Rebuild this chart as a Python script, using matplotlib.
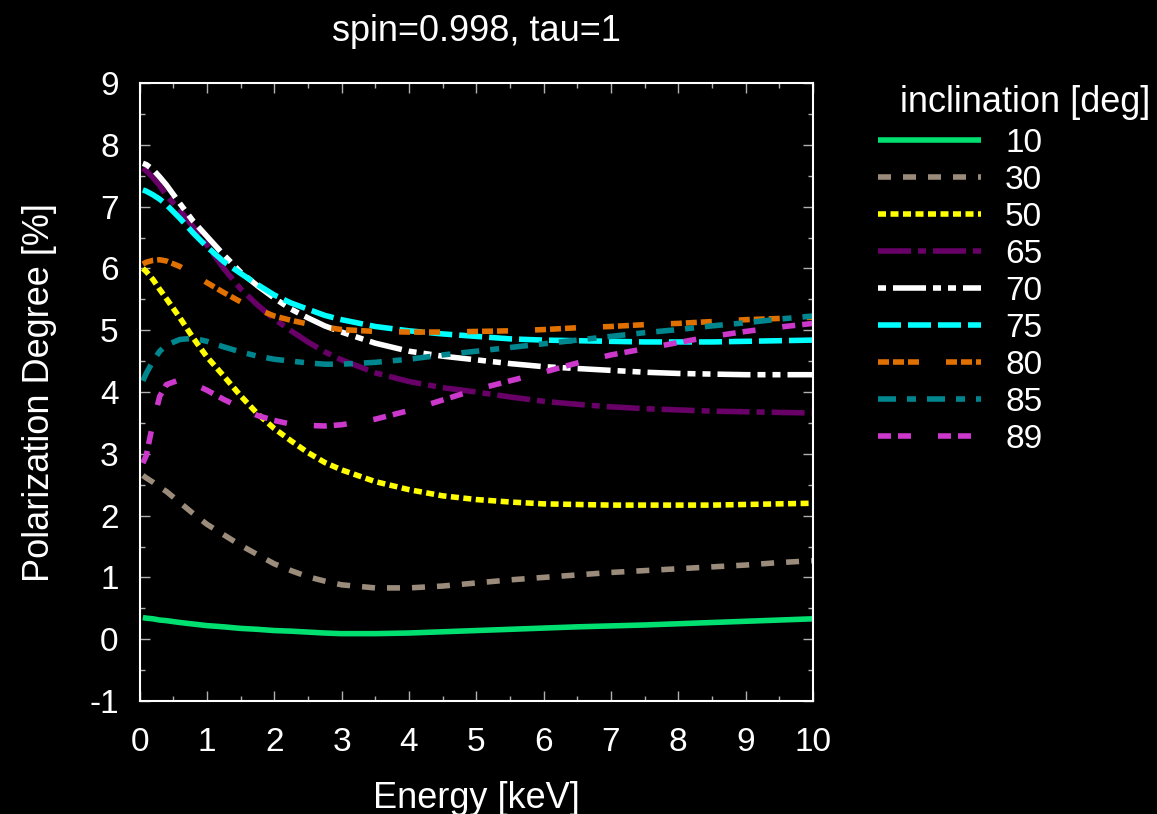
import matplotlib
matplotlib.use('Agg')
import matplotlib.pyplot as plt
from matplotlib.ticker import MultipleLocator

plt.rcParams['font.family'] = ['Liberation Sans', 'DejaVu Sans']
plt.rcParams['axes.unicode_minus'] = False
plt.rcParams['lines.scale_dashes'] = False

# energy grid [keV] and polarization degree [%]
energy = [0.05, 0.1, 0.2, 0.3, 0.4, 0.6, 0.8, 1.0, 1.25, 1.5, 1.75, 2.0, 2.25, 2.5, 2.75,
          3.0, 3.5, 4.0, 4.5, 5.0, 5.5, 6.0, 6.5, 7.0, 7.5, 8.0, 8.5, 9.0, 9.5, 10.0]

pol_10 = [0.35, 0.34, 0.33, 0.31, 0.30, 0.27, 0.245, 0.22, 0.20, 0.175, 0.16, 0.14, 0.13, 0.115, 0.10,
          0.09, 0.09, 0.10, 0.12, 0.14, 0.16, 0.18, 0.20, 0.215, 0.23, 0.25, 0.27, 0.29, 0.31, 0.33]
pol_30 = [2.65, 2.61, 2.54, 2.46, 2.39, 2.21, 2.03, 1.86, 1.69, 1.52, 1.37, 1.22, 1.11, 1.01, 0.94,
          0.88, 0.83, 0.83, 0.86, 0.91, 0.96, 1.00, 1.04, 1.08, 1.11, 1.14, 1.17, 1.20, 1.24, 1.27]
pol_50 = [6.00, 5.95, 5.82, 5.66, 5.51, 5.20, 4.87, 4.57, 4.26, 3.94, 3.65, 3.41, 3.21, 3.02, 2.86,
          2.74, 2.55, 2.42, 2.32, 2.26, 2.22, 2.19, 2.18, 2.17, 2.17, 2.17, 2.17, 2.18, 2.19, 2.20]
pol_65 = [7.62, 7.58, 7.47, 7.34, 7.18, 6.94, 6.67, 6.38, 6.00, 5.67, 5.41, 5.18, 4.99, 4.81, 4.65,
          4.52, 4.31, 4.17, 4.07, 4.00, 3.92, 3.85, 3.80, 3.76, 3.73, 3.71, 3.69, 3.68, 3.67, 3.66]
pol_70 = [7.70, 7.68, 7.60, 7.48, 7.35, 7.05, 6.76, 6.52, 6.22, 5.94, 5.72, 5.52, 5.34, 5.20, 5.07,
          4.97, 4.79, 4.66, 4.58, 4.52, 4.46, 4.41, 4.38, 4.35, 4.32, 4.30, 4.29, 4.28, 4.28, 4.28]
pol_75 = [7.27, 7.25, 7.19, 7.12, 7.03, 6.81, 6.57, 6.35, 6.11, 5.92, 5.74, 5.57, 5.44, 5.34, 5.24,
          5.17, 5.06, 4.99, 4.94, 4.90, 4.86, 4.84, 4.83, 4.82, 4.81, 4.81, 4.81, 4.82, 4.83, 4.84]
pol_80 = [6.07, 6.10, 6.13, 6.14, 6.12, 6.03, 5.90, 5.77, 5.61, 5.46, 5.34, 5.23, 5.16, 5.10, 5.05,
          5.01, 4.98, 4.97, 4.97, 4.98, 4.99, 5.01, 5.04, 5.06, 5.09, 5.11, 5.14, 5.17, 5.19, 5.21]
pol_85 = [4.18, 4.30, 4.50, 4.66, 4.76, 4.85, 4.87, 4.82, 4.73, 4.65, 4.58, 4.53, 4.50, 4.47, 4.45,
          4.45, 4.48, 4.53, 4.60, 4.66, 4.72, 4.78, 4.84, 4.90, 4.96, 5.01, 5.07, 5.12, 5.18, 5.23]
pol_89 = [2.85, 2.97, 3.50, 3.93, 4.12, 4.20, 4.13, 4.03, 3.88, 3.75, 3.62, 3.54, 3.48, 3.46, 3.45,
          3.47, 3.56, 3.70, 3.87, 4.04, 4.18, 4.32, 4.47, 4.60, 4.70, 4.80, 4.90, 4.98, 5.05, 5.11]

inclinations = ['10', '30', '50', '65', '70', '75', '80', '85', '89']
series = [pol_10, pol_30, pol_50, pol_65, pol_70, pol_75, pol_80, pol_85, pol_89]
colors = ['#00e070', '#9b8b7b', '#ffff00', '#680068', '#ffffff',
          '#00ffff', '#e07000', '#00868e', '#cc38cc']

PX = 0.72  # points per pixel at dpi 100
dash_px = [None, [13, 12], [8, 4.5], [33, 7, 8, 7], [8, 7, 33, 7, 8, 7],
           [23, 7], [11, 4, 11, 4, 11, 27], [18, 11, 9, 11], [13, 7, 13, 27]]
styles = ['-' if d is None else (0, tuple(v * PX for v in d)) for d in dash_px]

fig = plt.figure(figsize=(11.57, 8.14), dpi=100, facecolor='black')
ax = fig.add_axes([139.5 / 1157, 113 / 814, 673.5 / 1157, 618 / 814])
ax.set_facecolor('black')

for lab, vals, c, ls in zip(inclinations, series, colors, styles):
    ax.plot(energy, vals, color=c, lw=4.0, ls=ls, label=lab,
            solid_capstyle='butt', dash_capstyle='butt')

ax.set_xlim(0, 10)
ax.set_ylim(-1, 9)
ax.set_xticks(range(0, 11))
ax.set_yticks(range(-1, 10))
ax.xaxis.set_minor_locator(MultipleLocator(0.5))
ax.yaxis.set_minor_locator(MultipleLocator(0.5))
ax.tick_params(which='both', direction='in', top=True, right=True,
               colors='#b0b0b0', labelcolor='white', labelsize=24)
ax.tick_params(which='major', length=7.2, width=1.0)
ax.tick_params(which='minor', length=3.6, width=1.0)
ax.tick_params(axis='x', pad=18.5)
ax.tick_params(axis='y', pad=15)
for s in ax.spines.values():
    s.set_color('white')
    s.set_linewidth(1.5)

ax.set_title('spin=0.998, tau=1', color='white', fontsize=26, pad=30)
ax.set_xlabel('Energy [keV]', color='white', fontsize=26, labelpad=17)
ax.set_ylabel('Polarization Degree [%]', color='white', fontsize=26, labelpad=23)

ax.legend(loc='upper left', bbox_to_anchor=(878 / 1157, 1 - 128 / 814),
          bbox_transform=fig.transFigure, frameon=False, fontsize=24,
          handlelength=74.2 / 24, handletextpad=17.3 / 24, labelspacing=0.18,
          borderpad=0, borderaxespad=0, labelcolor='white')
fig.text(1150 / 1157, 1 - 103 / 814, 'inclination [deg]', ha='right', va='center',
         color='white', fontsize=26)

fig.savefig('out.png', dpi=100, facecolor='black')
